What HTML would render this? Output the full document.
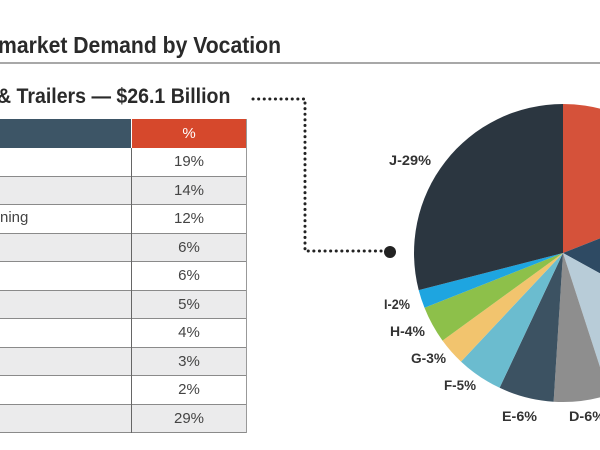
<!DOCTYPE html>
<html><head><meta charset="utf-8"><style>
html,body{margin:0;padding:0;background:#fff;width:600px;height:450px;overflow:hidden;position:relative;font-family:"Liberation Sans Narrow","Liberation Sans",sans-serif;}
.t{position:absolute;white-space:nowrap;color:#2a2a2a;font-weight:bold;transform-origin:0 0;}
.row{position:absolute;left:0;width:246px;height:28.5px;box-sizing:border-box;border-bottom:1px solid #8a8a8a;}
.row .c{position:absolute;left:132px;width:114px;text-align:center;font-family:"Liberation Sans",sans-serif;font-size:15px;color:#444;top:5px;}
</style></head><body>
<div class="t" style="left:-2px;top:32px;font-size:23px;transform:scaleX(0.92);">market Demand by Vocation</div>
<div style="position:absolute;left:0;top:62px;width:600px;height:2px;background:#a8a8a8;"></div>
<div class="t" style="left:-3px;top:85px;font-size:21px;transform:scaleX(0.93);">&amp; Trailers — $26.1 Billion</div>
<div style="position:absolute;left:0;top:119px;width:131px;height:29px;background:#3d5566;"></div>
<div style="position:absolute;left:132px;top:119px;width:114px;height:29px;background:#d6482c;color:#fff;font-family:'Liberation Sans',sans-serif;font-size:15px;text-align:center;line-height:29px;">%</div>
<div class="row" style="top:148px;background:#fff"><span class="c">19%</span></div>
<div class="row" style="top:176.5px;background:#ebebec"><span class="c">14%</span></div>
<div class="row" style="top:205px;background:#fff"><span style="position:absolute;left:0;top:4px;font-family:'Liberation Sans',sans-serif;font-size:15px;color:#444;">ning</span><span class="c">12%</span></div>
<div class="row" style="top:233.5px;background:#ebebec"><span class="c">6%</span></div>
<div class="row" style="top:262px;background:#fff"><span class="c">6%</span></div>
<div class="row" style="top:290.5px;background:#ebebec"><span class="c">5%</span></div>
<div class="row" style="top:319px;background:#fff"><span class="c">4%</span></div>
<div class="row" style="top:347.5px;background:#ebebec"><span class="c">3%</span></div>
<div class="row" style="top:376px;background:#fff"><span class="c">2%</span></div>
<div class="row" style="top:404.5px;background:#ebebec"><span class="c">29%</span></div>
<div style="position:absolute;left:131px;top:148px;width:1px;height:285px;background:#666;"></div>
<div style="position:absolute;left:246px;top:119px;width:1px;height:314px;background:#999;"></div>
<svg width="600" height="450" style="position:absolute;left:0;top:0">
<g stroke="#222" stroke-width="3" stroke-dasharray="0.1 5.5" stroke-linecap="round" fill="none">
<path d="M253 99 H305 V251 H386"/>
</g>
<circle cx="390" cy="252" r="6" fill="#222"/>
<path d="M563 253 L563 104 A149 149 0 0 1 701.5 198.2Z" fill="#d5523a"/>
<path d="M563 253 L701.5 198.2 A149 149 0 0 1 693.6 324.8Z" fill="#2e4a63"/>
<path d="M563 253 L693.6 324.8 A149 149 0 0 1 609 394.7Z" fill="#b8ccd8"/>
<path d="M563 253 L609 394.7 A149 149 0 0 1 553.6 401.7Z" fill="#8e8e8e"/>
<path d="M563 253 L553.6 401.7 A149 149 0 0 1 499.6 387.8Z" fill="#3c5262"/>
<path d="M563 253 L499.6 387.8 A149 149 0 0 1 461 361.6Z" fill="#6bbccf"/>
<path d="M563 253 L461 361.6 A149 149 0 0 1 442.5 340.6Z" fill="#f2c46e"/>
<path d="M563 253 L442.5 340.6 A149 149 0 0 1 424.5 307.8Z" fill="#8dc04a"/>
<path d="M563 253 L424.5 307.8 A149 149 0 0 1 418.7 290.1Z" fill="#1ea5e0"/>
<path d="M563 253 L418.7 290.1 A149 149 0 0 1 563 104Z" fill="#2b3640"/>
<g font-family="Liberation Sans Narrow, Liberation Sans, sans-serif" font-weight="bold" font-size="14" fill="#333">
<text x="389" y="165" textLength="42" lengthAdjust="spacingAndGlyphs">J-29%</text>
<text x="384" y="309" textLength="26" lengthAdjust="spacingAndGlyphs">I-2%</text>
<text x="390" y="336" textLength="35" lengthAdjust="spacingAndGlyphs">H-4%</text>
<text x="411" y="363" textLength="35" lengthAdjust="spacingAndGlyphs">G-3%</text>
<text x="444" y="390" textLength="32" lengthAdjust="spacingAndGlyphs">F-5%</text>
<text x="502" y="421" textLength="35" lengthAdjust="spacingAndGlyphs">E-6%</text>
<text x="569" y="421" textLength="36" lengthAdjust="spacingAndGlyphs">D-6%</text>
</g>
</svg>
</body></html>
